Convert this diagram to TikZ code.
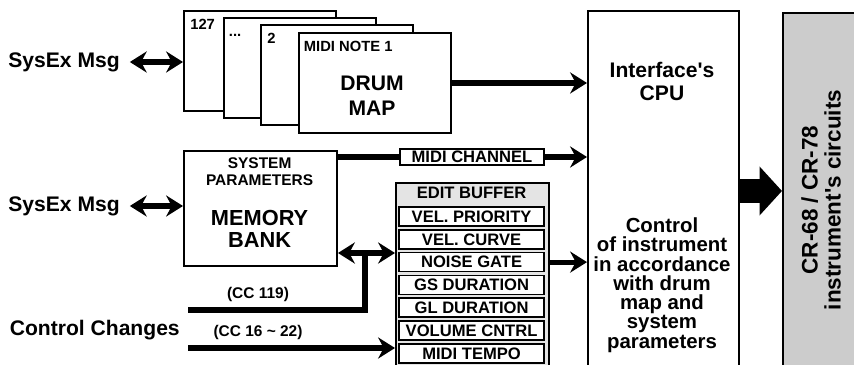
\documentclass[tikz,border=0pt]{standalone}
\usepackage{fontspec}
\setmainfont{Liberation Sans}
\usepackage{tikz}
\usepackage{xcolor}
\usetikzlibrary{arrows.meta, positioning, calc}
\definecolor{PanelBlack}{HTML}{000000}
\definecolor{PanelWhite}{HTML}{ffffff}
\definecolor{CircuitGray}{HTML}{CCCCCC}
\definecolor{BufferGray}{HTML}{E4E4E4}
\tikzset{
    % Box styles
    pagebox/.style={
        rectangle,
        draw=PanelBlack,
        fill=PanelWhite,
        line width=1.4pt,
        minimum width=3.8cm,
        minimum height=2.5cm,
        anchor=north west,
        inner sep=0pt
    },
    framebox/.style={
        rectangle,
        draw=PanelBlack,
        line width=1.4pt,
        anchor=north west,
        inner sep=0pt
    },
    slotbox/.style={
        rectangle,
        draw=PanelBlack,
        fill=PanelWhite,
        line width=1.2pt,
        minimum width=3.625cm,
        minimum height=0.475cm,
        inner sep=0pt,
        font=\fontsize{11.8}{12}\selectfont\bfseries
    },
    % Text styles
    biglabel/.style={
        inner sep=0pt,
        align=center,
        font=\fontsize{15}{16.3}\selectfont\bfseries
    },
    midlabel/.style={
        inner sep=0pt,
        align=center,
        font=\fontsize{11}{12}\selectfont\bfseries
    },
    pagelabel/.style={
        inner sep=0pt,
        text height=7.2pt,
        text depth=0pt,
        font=\fontsize{10.5}{11}\selectfont\bfseries
    },
    % Arrow styles
    busline/.style={
        line width=3.7pt,
        PanelBlack
    },
    busarrow/.style={
        busline,
        -{Stealth[length=12pt,width=15pt,inset=4pt]}
    },
    busdouble/.style={
        busline,
        {Stealth[length=12pt,width=15pt,inset=4pt]}-{Stealth[length=12pt,width=15pt,inset=4pt]}
    },
    bigarrow/.style={
        line width=17.5pt,
        PanelBlack,
        -{Triangle[length=16pt,width=34pt]}
    }
}

\begin{document}
\begin{tikzpicture}
    \useasboundingbox (0,0) rectangle (21.35,-9.125);

    % Drum map pages, back to front
    \node[pagebox] (page127) at (4.575,-0.25) {};
    \node[pagebox] (pagedots) at (5.575,-0.425) {};
    \node[pagebox] (pagetwo) at (6.5,-0.6) {};
    \node[pagebox] (drummap) at (7.45,-0.8) {};
    \node[pagelabel, below right=6.4pt and 5pt of page127.north west] (lbl127) {127};
    \node[pagelabel, below right=6.4pt and 4pt of pagedots.north west] (lbldots) {...};
    \node[pagelabel, below right=6.4pt and 5pt of pagetwo.north west] (lbltwo) {2};
    \node[pagelabel, below right=6.4pt and 4pt of drummap.north west] (lblone) {MIDI NOTE 1};
    \node[biglabel, font=\fontsize{15}{17.7}\selectfont\bfseries] (drumtext) at (9.3,-2.39) {DRUM\\MAP};

    % Memory bank
    \node[framebox, fill=PanelWhite, minimum width=3.825cm, minimum height=2.875cm] (membank) at (4.575,-3.75) {};
    \node[midlabel] (sysparam) at (6.49,-4.29) {SYSTEM\\PARAMETERS};
    \node[biglabel, font=\fontsize{15.5}{15.6}\selectfont\bfseries] (memtext) at (6.49,-5.725) {MEMORY\\BANK};

    % MIDI channel tag
    \node[slotbox, minimum width=3.6cm, minimum height=0.4cm] (midich) at (11.8,-3.925) {MIDI CHANNEL};

    % Edit buffer with its slots
    \node[framebox, fill=BufferGray, minimum width=3.825cm, minimum height=5cm] (ebuf) at (9.875,-4.55) {};
    \node[slotbox, draw=none, fill=none] (ebhead) at (11.79,-4.825) {EDIT BUFFER};
    \foreach \txt [count=\i] in {VEL. PRIORITY, VEL. CURVE, NOISE GATE, GS DURATION, GL DURATION, VOLUME CNTRL, MIDI TEMPO}
        \node[slotbox] (slot\i) at (11.79,{-5.4125-0.57*(\i-1)}) {\txt};

    % CPU and instrument
    \node[framebox, fill=PanelWhite, minimum width=3.775cm, minimum height=9cm] (cpu) at (14.675,-0.25) {};
    \node[biglabel] (cputitle) at (16.55,-2.03) {Interface\textquotesingle s\\CPU};
    \node[biglabel, font=\fontsize{14.5}{13.7}\selectfont\bfseries] (cpubody) at (16.55,-7.125) {Control\\of instrument\\in accordance\\with drum\\map and\\system\\parameters};
    \node[framebox, fill=CircuitGray, minimum width=3cm, minimum height=9cm] (circuits) at (19.55,-0.3) {};
    \node[biglabel, rotate=90, font=\fontsize{16}{16.3}\selectfont\bfseries] (crtext) at (20.525,-5.0) {CR-68 / CR-78\\instrument\textquotesingle s circuits};

    % Inputs
    \node[biglabel, anchor=east] (sysexa) at (3.0,-1.55) {SysEx Msg};
    \node[biglabel, anchor=east] (sysexb) at (3.0,-5.15) {SysEx Msg};
    \node[biglabel, anchor=east] (ctrlchg) at (4.5,-8.25) {Control Changes};
    \node[midlabel] (cc119lbl) at (6.45,-7.375) {(CC 119)};
    \node[midlabel] (cc16lbl) at (6.45,-8.325) {(CC 16 \textasciitilde{} 22)};
    \coordinate (cc119) at (4.7,-7.75);
    \coordinate (cc16) at (4.7,-8.7);
    \coordinate (jn) at (9.125,-6.325);

    % Connectors
    \draw[busdouble] ([xshift=7pt]sysexa.east) -- (sysexa.east -| page127.west);
    \draw[busdouble] ([xshift=7pt]sysexb.east) -- (sysexb.east -| membank.west);
    \draw[busarrow] (drummap.east) -- (drummap.east -| cpu.west);
    \draw[busline] (midich.west -| membank.east) -- (midich.west);
    \draw[busarrow] (midich.east) -- (midich.east -| cpu.west);
    \draw[busdouble] (jn -| membank.east) -- (jn -| ebuf.west);
    \draw[busline] (cc119) -| (jn);
    \draw[busarrow] (cc16) -- (cc16 -| ebuf.west);
    \draw[busarrow] (slot3 -| ebuf.east) -- (slot3 -| cpu.west);
    \draw[bigarrow] (cpu.east) -- (cpu.east -| circuits.west);
\end{tikzpicture}
\end{document}
